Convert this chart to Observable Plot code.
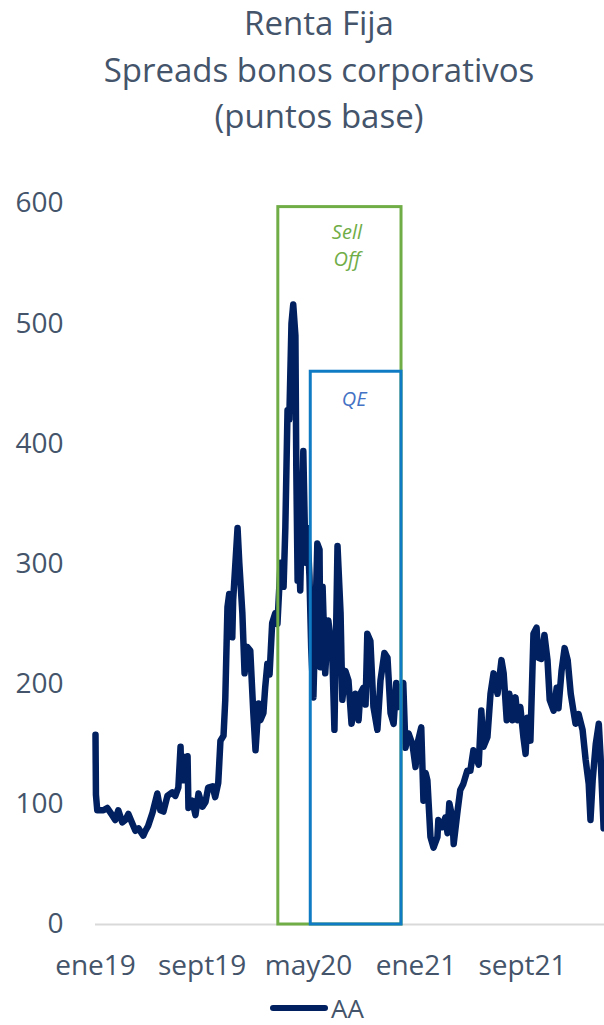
<!DOCTYPE html>
<html>
<head>
<meta charset="utf-8">
<script src="https://cdn.jsdelivr.net/npm/d3@7"></script>
<script src="https://cdn.jsdelivr.net/npm/@observablehq/plot@0.6"></script>
<style>
  html, body { margin: 0; padding: 0; background: #ffffff; }
  body { width: 604px; height: 1025px; overflow: hidden; font-family: "Open Sans", sans-serif; color: #44546A; }
  #title { height: 140px; box-sizing: border-box; padding-left: 34px; text-align: center; font-size: 33px; line-height: 46.5px; white-space: nowrap; }
  #legend { height: 35px; display: flex; justify-content: center; align-items: center; padding-left: 30px; box-sizing: border-box; font-size: 26px; }
  #legend span { line-height: 26px; margin-left: 3px; }
</style>
</head>
<body>
<div id="title">Renta Fija<br>Spreads bonos corporativos<br>(puntos base)</div>
<div id="chart"></div>
<div id="legend"><svg width="58" height="10"><line x1="3" y1="5" x2="55" y2="5" stroke="#002060" stroke-width="6" stroke-linecap="round"/></svg><span>AA</span></div>
<script>
const seriesName = "AA";
const dates = [
"2019-01-01","2019-01-02","2019-01-05","2019-01-19","2019-01-28","2019-02-08","2019-02-15","2019-02-22","2019-03-03","2019-03-10",
"2019-03-17","2019-03-26","2019-04-02","2019-04-09","2019-04-20","2019-04-25","2019-05-01","2019-05-11","2019-05-22","2019-05-29",
"2019-06-05","2019-06-14","2019-06-25","2019-07-02","2019-07-09","2019-07-14","2019-07-16","2019-07-18","2019-07-23","2019-07-30",
"2019-08-01","2019-08-10","2019-08-17","2019-08-24","2019-09-02","2019-09-09","2019-09-15","2019-09-25","2019-10-01","2019-10-08",
"2019-10-13","2019-10-20","2019-10-24","2019-10-29","2019-11-02","2019-11-09","2019-11-11","2019-11-21","2019-11-25","2019-12-02",
"2019-12-07","2019-12-13","2019-12-20","2019-12-27","2020-01-01","2020-01-08","2020-01-12","2020-01-19","2020-01-23","2020-01-28",
"2020-02-02","2020-02-08","2020-02-15","2020-02-20","2020-02-27","2020-03-02","2020-03-05","2020-03-09","2020-03-14","2020-03-18",
"2020-03-23","2020-03-27","2020-04-01","2020-04-03","2020-04-06","2020-04-10","2020-04-12","2020-04-17","2020-04-19","2020-04-24",
"2020-04-28","2020-05-03","2020-05-07","2020-05-12","2020-05-17","2020-05-21","2020-05-26","2020-05-28","2020-06-02","2020-06-08",
"2020-06-15","2020-06-24","2020-06-29","2020-07-06","2020-07-13","2020-07-17","2020-07-24","2020-07-31","2020-08-07","2020-08-16",
"2020-08-23","2020-08-27","2020-09-03","2020-09-08","2020-09-12","2020-09-19","2020-09-26","2020-10-05","2020-10-12","2020-10-21",
"2020-10-28","2020-11-04","2020-11-11","2020-11-17","2020-11-22","2020-12-03","2020-12-08","2020-12-15","2020-12-24","2020-12-31",
"2021-01-04","2021-01-13","2021-01-18","2021-01-23","2021-01-27","2021-02-03","2021-02-10","2021-02-19","2021-02-21","2021-03-02",
"2021-03-09","2021-03-14","2021-03-18","2021-03-25","2021-03-28","2021-04-06","2021-04-12","2021-04-19","2021-04-28","2021-05-05",
"2021-05-12","2021-05-24","2021-05-30","2021-06-04","2021-06-13","2021-06-20","2021-06-27","2021-07-06","2021-07-15","2021-07-20",
"2021-07-27","2021-08-02","2021-08-09","2021-08-16","2021-08-21","2021-08-27","2021-09-03","2021-09-08","2021-09-12","2021-09-19",
"2021-09-26","2021-10-03","2021-10-07","2021-10-14","2021-10-21","2021-10-28","2021-11-02","2021-11-11","2021-11-18","2021-11-22",
"2021-11-29","2021-12-06","2021-12-13","2021-12-20","2021-12-26","2021-12-31","2022-01-07","2022-01-16","2022-01-23","2022-01-30",
"2022-02-03","2022-02-08","2022-02-15","2022-02-22","2022-02-26","2022-03-05"
];
const values = [
158,108,95,95,97,91,87,95,85,87,
92,84,78,80,74,78,82,93,109,95,
94,107,110,107,114,148,120,140,120,140,
97,103,91,109,98,102,114,115,106,118,
153,157,187,264,275,239,270,330,301,259,
209,231,228,176,145,184,170,176,197,217,
208,251,259,250,301,300,281,330,428,420,
500,516,490,380,286,300,278,360,394,301,
330,290,230,189,260,317,312,214,281,209,
253,226,162,315,259,187,211,203,167,192,
170,192,197,183,242,236,181,162,203,226,
222,176,167,201,181,201,147,159,150,131,
150,164,103,126,120,73,64,73,87,81,
89,76,101,89,67,95,112,117,128,128,
145,133,178,148,156,192,209,192,220,209,
170,192,170,189,170,181,156,142,172,153,
242,247,222,221,241,220,187,178,197,180,
211,230,220,192,178,167,175,162,137,117,
87,120,150,167,140,80
];

const periodLabels = ["Sell\nOff", "QE"];
const periodStarts = ["2020-02-22", "2020-05-06"];
const periodEnds = ["2020-11-29", "2020-11-29"];
const periodTops = [597, 460];

const xTickDates = ["2019-01-01", "2019-09-01", "2020-05-01", "2021-01-01", "2021-09-01"];
const xTickLabels = ["ene19", "sept19", "may20", "ene21", "sept21"];
const yTicks = [0, 100, 200, 300, 400, 500, 600];
const xDomain = ["2019-01-01", "2022-03-07"];

const series = dates.map((d, i) => ({date: new Date(d), value: values[i]}));
const periods = periodLabels.map((l, i) => ({
  label: l, start: new Date(periodStarts[i]), end: new Date(periodEnds[i]), top: periodTops[i],
  mid: new Date((new Date(periodStarts[i]).getTime() + new Date(periodEnds[i]).getTime()) / 2)
}));
const tickMap = new Map(xTickDates.map((d, i) => [new Date(d).getTime(), xTickLabels[i]]));

const colors = {line: "#002060", green: "#70AD47", blue: "#0F7BC4", qeText: "#4472C4", text: "#44546A", grid: "#D9D9D9"};

const chart = Plot.plot({
  width: 604,
  height: 850,
  marginTop: 63,
  marginBottom: 66,
  marginLeft: 95,
  marginRight: 0,
  style: {fontFamily: "Open Sans, sans-serif", color: colors.text, background: "#ffffff"},
  x: {type: "utc", domain: xDomain.map(d => new Date(d))},
  y: {domain: [0, 600]},
  marks: [
    Plot.ruleY([0], {stroke: colors.grid, strokeWidth: 2}),
    Plot.axisY({ticks: yTicks, tickSize: 0, tickPadding: 32, fontSize: 28, fill: colors.text, label: null}),
    Plot.axisX({ticks: xTickDates.map(d => new Date(d)), tickSize: 0, tickPadding: 31, fontSize: 28, fill: colors.text, label: null,
      tickFormat: d => tickMap.get(d.getTime())}),
    Plot.line(series, {x: "date", y: "value", stroke: colors.line, strokeWidth: 6.5, strokeLinejoin: "round", strokeLinecap: "round"}),
    Plot.rect(periods.slice(0, 1), {x1: "start", x2: "end", y1: 0, y2: "top", fill: "none", stroke: colors.green, strokeWidth: 3}),
    Plot.rect(periods.slice(1, 2), {x1: "start", x2: "end", y1: 0, y2: "top", fill: "none", stroke: colors.blue, strokeWidth: 3}),
    Plot.text(periods.slice(0, 1), {x: "mid", y: "top", text: "label", dx: 7, dy: 37, fontSize: 20, fontStyle: "italic", fill: colors.green, lineHeight: 1.35, lineAnchor: "middle"}),
    Plot.text(periods.slice(1, 2), {x: "mid", y: "top", text: "label", dx: -2, dy: 28, fontSize: 20, fontStyle: "italic", fill: colors.qeText, lineAnchor: "middle"})
  ]
});
document.getElementById("chart").appendChild(chart);
</script>
</body>
</html>
